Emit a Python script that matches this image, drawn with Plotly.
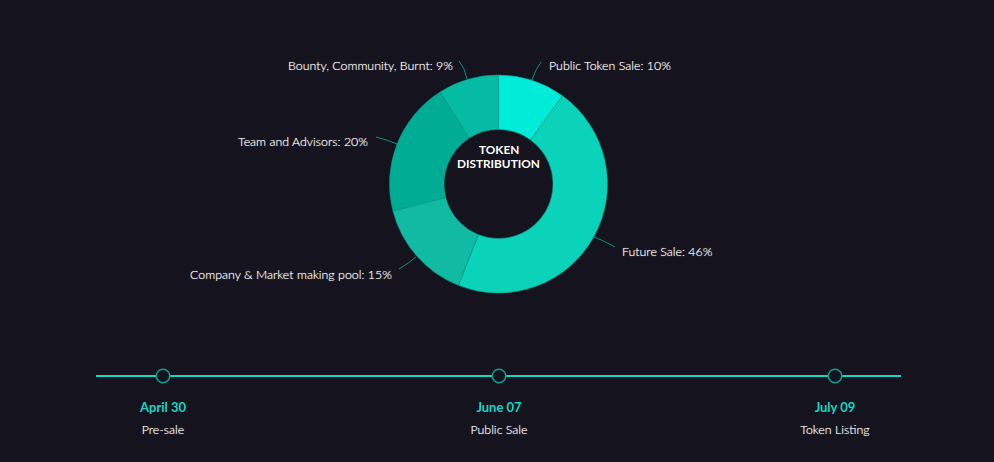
import plotly.graph_objects as go

slice_names = ["Public Token Sale", "Future Sale", "Company & Market making pool", "Team and Advisors", "Bounty, Community, Burnt"]
slice_values = [10, 46, 15, 20, 9]
slice_colors = ["#00EBD8", "#0AD3B9", "#11BBA3", "#00AD94", "#05BBA4"]

milestone_dates = ["April 30", "June 07", "July 09"]
milestone_phases = ["Pre-sale", "Public Sale", "Token Listing"]

W = 994
H = 462
BG = "#14131E"
TEAL = "#0FD9C6"
TEXT = "#FFFFFA"
GLOW = "0 0 1px rgba(255,255,250,0.75)"


def px(x):
    return x / W


def py(y):
    return 1 - y / H


fig = go.Figure()

# donut
fig.add_trace(go.Pie(
    labels=slice_names,
    values=slice_values,
    hole=0.5,
    sort=False,
    direction="clockwise",
    rotation=0,
    textinfo="none",
    marker=dict(colors=slice_colors, line=dict(color="#0A9A88", width=0.6)),
    domain=dict(x=[px(389.5), px(607.5)], y=[py(293), py(75)]),
    showlegend=False,
))

# timeline, milestones are evenly spaced, not to date scale
idx = list(range(len(milestone_dates)))
fig.add_trace(go.Scatter(
    x=idx, y=[0] * len(idx), mode="markers", cliponaxis=False, showlegend=False,
    marker=dict(size=13.5, color=BG, line=dict(color="#0E9F92", width=1.5)),
))
fig.add_trace(go.Scatter(
    x=idx, y=[-33] * len(idx), mode="text", cliponaxis=False, showlegend=False,
    text=milestone_dates,
    textfont=dict(family="Lato", size=13, color=TEAL, weight=700),
))
fig.add_trace(go.Scatter(
    x=idx, y=[-55] * len(idx), mode="text", cliponaxis=False, showlegend=False,
    text=milestone_phases,
    textfont=dict(family="Lato", size=12.4, color=TEXT, weight=300, shadow=GLOW),
))

# label anchor x, y and side, then leader curve ends (px)
label_spots = [
    (549, 65, "left", (532, 80), (535, 70), (541, 62)),
    (622, 251, "left", (594, 237), (603, 240), (615, 247)),
    (392, 274, "right", (416, 257), (409, 263), (399, 269)),
    (368, 142, "right", (397, 144), (388, 140), (376, 137)),
    (453, 65, "right", (467, 79), (465, 68), (459, 61)),
]

for name, val, (lx, ly, side, p0, p1, p2) in zip(slice_names, slice_values, label_spots):
    fig.add_annotation(
        x=px(lx), y=py(ly), xref="paper", yref="paper", showarrow=False,
        text=f"{name}: {val}%", xanchor=side, yanchor="middle",
        xshift=2 if side == "right" else -2,
        font=dict(family="Lato", size=12.4, color=TEXT, weight=300, shadow=GLOW),
    )
    fig.add_shape(
        type="path", xref="paper", yref="paper",
        path=f"M {px(p0[0])} {py(p0[1])} Q {px(p1[0])} {py(p1[1])} {px(p2[0])} {py(p2[1])}",
        line=dict(color="#0B8F82", width=1),
    )

fig.add_annotation(
    x=px(498.5), y=py(149.5), xref="paper", yref="paper", showarrow=False,
    text="<b>TOKEN</b>", yanchor="middle",
    font=dict(family="Lato", size=11.8, color="#FFFFFF"),
)
fig.add_annotation(
    x=px(498.5), y=py(163), xref="paper", yref="paper", showarrow=False,
    text="<b>DISTRIBUTION</b>", yanchor="middle",
    font=dict(family="Lato", size=11.8, color="#FFFFFF"),
)

fig.update_layout(
    width=W,
    height=H,
    margin=dict(l=0, r=0, t=0, b=0),
    paper_bgcolor=BG,
    plot_bgcolor=BG,
    xaxis=dict(
        domain=[px(96), px(901)], range=[-0.1994, 2.1964],
        showgrid=False, zeroline=False, showticklabels=False,
        ticks="", showline=False, fixedrange=True,
    ),
    yaxis=dict(
        domain=[py(446), py(366)], range=[-70, 10],
        showgrid=False, showticklabels=False, ticks="", showline=False, fixedrange=True,
        zeroline=True, zerolinecolor=TEAL, zerolinewidth=2,
    ),
)

# page has a default body margin, drop it so the chart fills the window
fig.write_html(
    "out.html",
    config={"displayModeBar": False},
    post_script=f"document.body.style.margin='0';document.body.style.background='{BG}';",
)
